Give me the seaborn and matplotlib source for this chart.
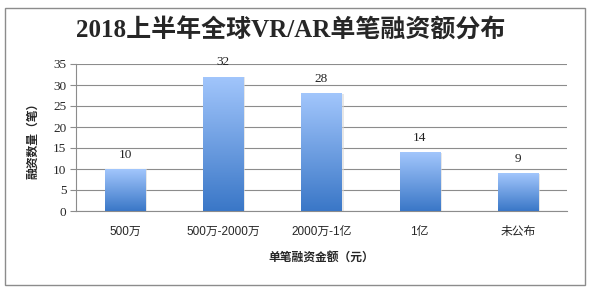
import numpy as np
import pandas as pd
import matplotlib
matplotlib.use("Agg")
import matplotlib.pyplot as plt
import seaborn as sns
from matplotlib.patches import Rectangle
from matplotlib.colors import LinearSegmentedColormap

categories = ["500万", "500万-2000万", "2000万-1亿", "1亿", "未公布"]
counts = [10, 32, 28, 14, 9]
yticks = [0, 5, 10, 15, 20, 25, 30, 35]
title = "2018上半年全球VR/AR单笔融资额分布"
xlabel = "单笔融资金额（元）"
ylabel = "融资数量（笔）"

sns.set_style("white")
plt.rcParams['font.family'] = ['Liberation Serif', 'Noto Sans CJK SC', 'DejaVu Sans']

df = pd.DataFrame({"cat": categories, "n": counts})

fig = plt.figure(figsize=(5.92, 2.93), dpi=100)
W, H = 592, 293
ax = fig.add_axes([76 / W, 1 - 211 / H, (567 - 76) / W, (211 - 64) / H])

sns.barplot(data=df, x="cat", y="n", ax=ax, color="#5b8fd6", width=0.41,
            saturation=1, edgecolor="none")

ax.set_ylim(0, 35)
ax.set_xlim(-0.5, len(categories) - 0.5)
ax.set_yticks(yticks)
ax.yaxis.grid(True, color="#8c8c8c", linewidth=0.8)
ax.set_axisbelow(True)
for s in ["top", "right"]:
    ax.spines[s].set_visible(False)
ax.spines["left"].set_color("#8c8c8c")
ax.spines["bottom"].set_color("#8c8c8c")
ax.spines["left"].set_linewidth(0.8)
ax.spines["bottom"].set_linewidth(0.8)
ax.tick_params(axis="y", length=4, color="#8c8c8c", labelsize=9.5, pad=3, left=True)
ax.tick_params(axis="x", length=0, labelsize=8.5, pad=11)
ax.set_xlabel(xlabel, fontsize=8.5, fontweight="bold", labelpad=9,
              family=['Noto Sans CJK SC'])
ax.set_ylabel(ylabel, fontsize=8.5, fontweight="bold", labelpad=10,
              family=['Noto Sans CJK SC'])
for lab in ax.get_xticklabels():
    lab.set_fontfamily(['Liberation Sans', 'Noto Sans CJK SC'])

# gradient fill
cmap = LinearSegmentedColormap.from_list("g", ["#3a77c7", "#a2c6fc"])
grad = np.linspace(0, 1, 256).reshape(-1, 1)
for p in list(ax.patches):
    x0, w, h = p.get_x(), p.get_width(), p.get_height()
    sh = Rectangle((x0 + 0.02, 0), w, h - 0.1, facecolor="#d8d8d8", edgecolor="none",
                   zorder=1.5, alpha=0.6)
    ax.add_patch(sh)
    im = ax.imshow(grad, extent=[x0, x0 + w, 0, h], origin="lower", cmap=cmap,
                   aspect="auto", zorder=3)
    im.set_clip_path(p)
    p.set_zorder(2)
    ax.text(x0 + w / 2, h + 2.0, f"{int(h)}", ha="center", va="bottom",
            fontsize=9.5, color="#222222", clip_on=False)

ax.set_xlim(-0.5, len(categories) - 0.5)
ax.set_ylim(0, 35)

fig.text(291 / W, 1 - 31 / H, title, ha="center", va="center", fontsize=18,
         fontweight="bold", family=['Liberation Serif', 'Noto Sans CJK SC'])

fig.patches.append(Rectangle((5 / W, 1 - 285 / H), (585 - 5) / W, (285 - 8) / H,
                             transform=fig.transFigure, fill=False,
                             edgecolor="#8c8c8c", linewidth=1.0))

fig.savefig("out.png", dpi=100)
